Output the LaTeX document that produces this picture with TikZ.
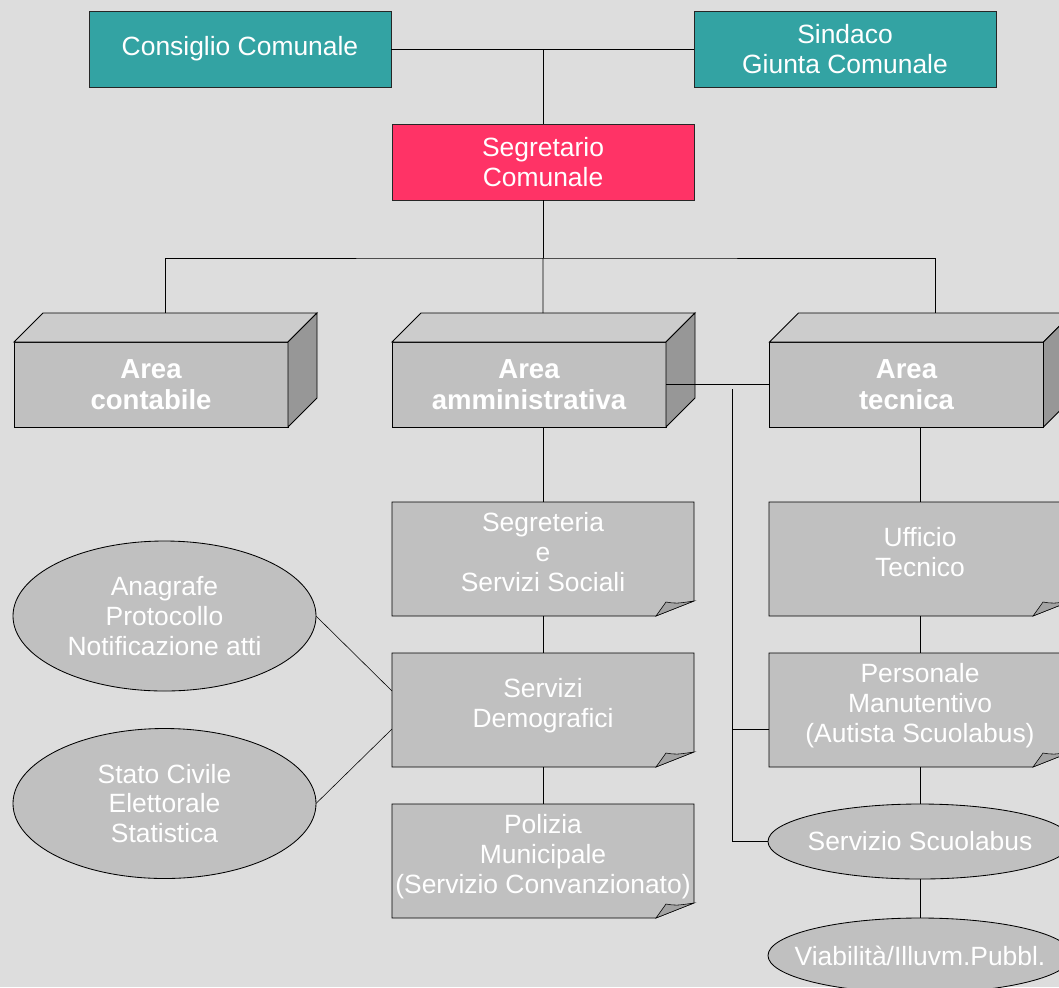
\documentclass[tikz,border=0pt]{standalone}
\usepackage{fontspec}
\setmainfont{Liberation Sans}
\usetikzlibrary{calc,shapes.geometric}

\definecolor{pagegray}{HTML}{DDDDDD}
\definecolor{boxgray}{HTML}{C0C0C0}
\definecolor{topgray}{HTML}{CCCCCC}
\definecolor{sidegray}{HTML}{979797}
\definecolor{foldgray}{HTML}{A3A3A3}
\definecolor{councilteal}{HTML}{33A3A3}
\definecolor{secretaryred}{HTML}{FF3366}

\pgfdeclarelayer{back}
\pgfsetlayers{back,main}

\begin{document}
\begin{tikzpicture}[every node/.style={text=white, align=center, font=\fontsize{18.8}{21.3}\selectfont}, line width=0.6pt]

% Boxes
\tikzstyle{toplevel}=[draw=black!85, fill=councilteal, inner sep=0pt, outer sep=0pt, minimum width=75.5mm, minimum height=19mm]
\tikzstyle{area}=[draw, fill=boxgray, inner sep=0pt, outer sep=0pt, minimum width=68.5mm, minimum height=21.25mm, font=\bfseries\fontsize{19.6}{22}\selectfont]
\tikzstyle{note}=[inner sep=0pt, outer sep=0pt, text depth=3.5mm, minimum width=75.5mm, minimum height=28.5mm]
\tikzstyle{oval}=[ellipse, draw, fill=boxgray, inner sep=0pt, inner xsep=-8mm, outer sep=0pt]

\useasboundingbox (0,0) rectangle (264.75mm,-246.75mm);
\clip (0,0) rectangle (264.75mm,-246.75mm);

%%%%%%%%%%%%%%%%%%%%%%%%%%%%%%%%%%%%%%%%%%%%%%%%%%%%%%%%%%%%%%%
%
%       Organi politici
%
\node (consiglio)  [toplevel] at (60mm,-12.25mm)    {Consiglio Comunale};
\node (sindaco)    [toplevel] at (211.25mm,-12.25mm) {Sindaco\\Giunta Comunale};
\node (segretario) [toplevel, fill=secretaryred] at (135.75mm,-40.5mm) {Segretario\\Comunale};

%%%%%%%%%%%%%%%%%%%%%%%%%%%%%%%%%%%%%%%%%%%%%%%%%%%%%%%%%%%%%%%
%
%       Aree
%
\node (contabile)      [area] at (37.75mm,-96.125mm)  {Area\\contabile};
\node (amministrativa) [area] at (132.25mm,-96.125mm) {Area\\amministrativa};
\node (tecnica)        [area] at (226.625mm,-96.125mm) {Area\\tecnica};

% top and side faces
\foreach \a in {contabile,amministrativa,tecnica}{
  \draw[fill=topgray]  (\a.north west) -- ++(7.25mm,7.25mm) -- ++(68.5mm,0) -- (\a.north east) -- cycle;
  \draw[fill=sidegray] (\a.north east) -- ++(7.25mm,7.25mm) -- ++(0,-21.25mm) -- (\a.south east) -- cycle;
}

%%%%%%%%%%%%%%%%%%%%%%%%%%%%%%%%%%%%%%%%%%%%%%%%%%%%%%%%%%%%%%%
%
%       Uffici e servizi
%
\node (segreteria)  [note] at (135.75mm,-139.75mm) {Segreteria\\e\\Servizi Sociali};
\node (demografici) [note] at (135.75mm,-177.5mm)  {Servizi\\Demografici};
\node (polizia)     [note] at (135.75mm,-215.25mm) {Polizia\\Municipale\\(Servizio Convanzionato)};
\node (ufficio)     [note] at (230mm,-139.75mm)    {Ufficio\\Tecnico};
\node (personale)   [note] at (230mm,-177.5mm)     {Personale\\Manutentivo\\(Autista Scuolabus)};

\node (anagrafe)    [oval, minimum width=75.75mm, minimum height=37.5mm] at (41.125mm,-154mm)    {Anagrafe\\Protocollo\\Notificazione atti};
\node (statocivile) [oval, minimum width=75.75mm, minimum height=37.5mm] at (41.125mm,-200.875mm) {Stato Civile\\Elettorale\\Statistica};
\node (scuolabus)   [oval, minimum width=76mm, minimum height=18.75mm]   at (230mm,-210.375mm)    {Servizio Scuolabus};
\node (viabilita)   [oval, minimum width=76mm, minimum height=18.75mm]   at (230mm,-238.875mm)    {Viabilità/Illuvm.Pubbl.};

% page and folded sheets behind the text
\begin{pgfonlayer}{back}
\fill[pagegray] (0,0) rectangle (264.75mm,-246.75mm);
\foreach \n in {segreteria,demografici,polizia,ufficio,personale}{
  \draw[fill=boxgray] (\n.north west) -- (\n.north east) -- ($(\n.south east)+(0,3.75mm)$)
        -- ($(\n.south east)+(-9.5mm,0)$) -- (\n.south west) -- cycle;
  \draw[fill=foldgray] ($(\n.south east)+(-9.5mm,0)$) -- ($(\n.south east)+(-7mm,3.5mm)$)
        .. controls ($(\n.south east)+(-4.5mm,3.1mm)$) .. ($(\n.south east)+(0,3.75mm)$) -- cycle;
}
\end{pgfonlayer}

%%%%%%%%%%%%%%%%%%%%%%%%%%%%%%%%%%%%%%%%%%%%%%%%%%%%%%%%%%%%%%%
%
%       Collegamenti
%
\draw (consiglio.east) -- (sindaco.west);
\draw (segretario.north) -- (segretario.north |- consiglio.east);
\draw (segretario.south) -- ++(0,-14.5mm) coordinate (split);
\draw (split) -- ($(amministrativa.north)+(3.5mm,7.25mm)$);
\draw ($(contabile.north)+(3.5mm,7.25mm)$) |- (split) -| ($(tecnica.north)+(7.25mm,7.25mm)$);
\draw (amministrativa.east) -- (tecnica.west);

% area amministrativa
\draw (segreteria.north) -- (segreteria.north |- amministrativa.south);
\draw (segreteria.south) -- (demografici.north);
\draw (demografici.south) -- (polizia.north);
\draw (anagrafe.east)    -- ($(demografici.west)+(0,4.75mm)$);
\draw (statocivile.east) -- ($(demografici.west)+(0,-4.75mm)$);

% area tecnica
\draw (ufficio.north) -- (ufficio.north |- tecnica.south);
\draw (ufficio.south) -- (personale.north);
\draw (personale.south) -- (scuolabus.north);
\draw (scuolabus.south) -- (viabilita.north);
\coordinate (bus) at (183mm,-97.25mm);
\draw (bus) |- (scuolabus.west);
\draw ($(personale.west)+(0,-4.75mm)$) -| (bus);

\end{tikzpicture}
\end{document}
